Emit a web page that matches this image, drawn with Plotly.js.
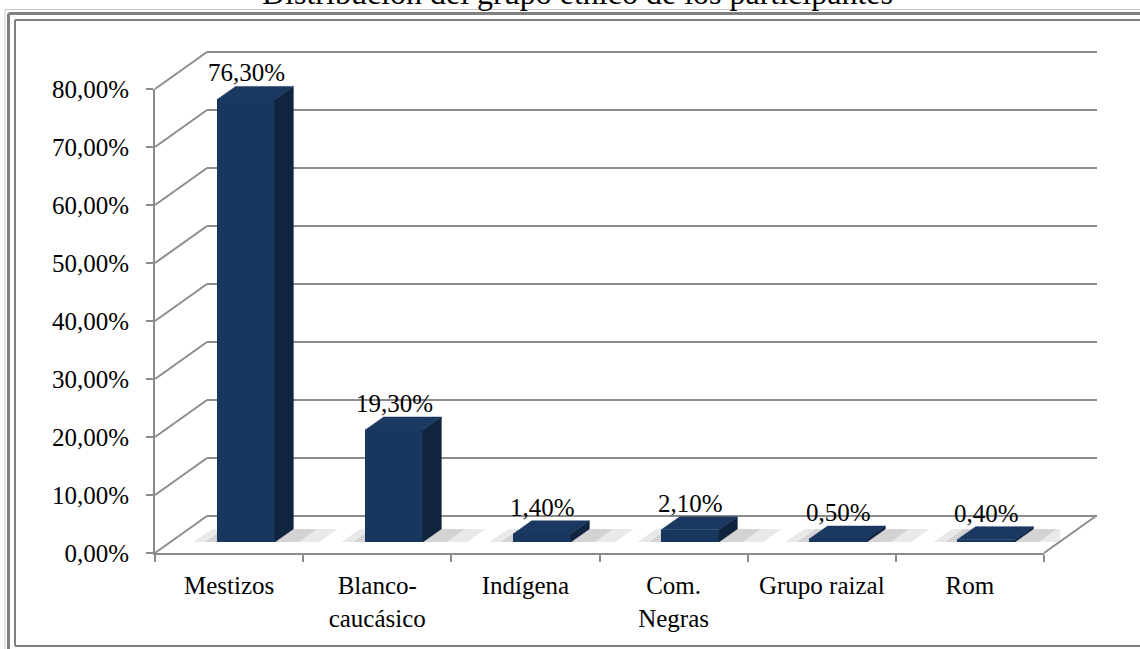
<!DOCTYPE html>
<html>
<head>
<meta charset="utf-8">
<script src="https://cdn.plot.ly/plotly-3.0.1.min.js"></script>
<style>html,body{margin:0;padding:0;background:#fff;}#chart{width:1140px;height:649px;}</style>
</head>
<body>
<div id="chart"></div>
<script>
// ---- data ----
const categories = ["Mestizos", "Blanco-<br>caucásico", "Indígena", "Com.<br>Negras", "Grupo raizal", "Rom"];
const values = [76.3, 19.3, 1.4, 2.1, 0.5, 0.4];
const tickValues = [0, 10, 20, 30, 40, 50, 60, 70, 80];
const tickLabels = ["0,00%", "10,00%", "20,00%", "30,00%", "40,00%", "50,00%", "60,00%", "70,00%", "80,00%"];
const chartTitle = "Distribución del grupo étnico de los participantes";

// ---- layout geometry (pixels) ----
const W = 1140, H = 649;
const px = x => x / W, py = y => 1 - y / H;
const FX0 = 155, FX1 = 1044, FY0 = 553, FY80 = 89;   // front plane
const DDX = 52, DDY = 37;                             // depth offset
const BAR_Y0 = 542, BAR_Y80 = 78;                     // bar base plane
const BX0 = 172, BX1 = 1060;                          // bar category span
const BAR_W = 0.39;                                   // category units
const SIDE_DX = 0.125, SIDE_DY = 2.25;                // bar depth (cat units, %)
const FONT = "Liberation Serif, Times New Roman, serif";
const GRID = "#8c8c8c";

const yf = t => FY0 - t * (FY0 - FY80) / 80;
const yb = t => yf(t) - DDY;

const idx = values.map((v, i) => i);

// side and top faces of the pseudo-3D bars, derived from the values
const sideX = [], sideY = [], topX = [], topY = [];
values.forEach((v, i) => {
  const r = i + BAR_W / 2, l = i - BAR_W / 2;
  sideX.push(r, r + SIDE_DX, r + SIDE_DX, r, r, null);
  sideY.push(0, SIDE_DY, v + SIDE_DY, v, 0, null);
  topX.push(l, r, r + SIDE_DX, l + SIDE_DX, l, null);
  topY.push(v, v, v + SIDE_DY, v + SIDE_DY, v, null);
});

const traces = [
  { type: "scatter", x: categories, y: values.map(() => 0), xaxis: "x", yaxis: "y",
    mode: "markers", marker: { opacity: 0 }, hoverinfo: "skip", showlegend: false },
  { type: "bar", x: idx, y: values, xaxis: "x2", yaxis: "y2", width: BAR_W,
    marker: { color: "#17375e", line: { width: 0 } }, hoverinfo: "skip", showlegend: false },
  { type: "scatter", x: sideX, y: sideY, xaxis: "x2", yaxis: "y2", mode: "lines", fill: "toself",
    fillcolor: "#10243f", line: { width: 0.5, color: "#10243f" }, hoverinfo: "skip", showlegend: false },
  { type: "scatter", x: topX, y: topY, xaxis: "x2", yaxis: "y2", mode: "lines", fill: "toself",
    fillcolor: "#1a3860", line: { width: 0.5, color: "#1a3860" }, hoverinfo: "skip", showlegend: false }
];

// decoration shapes: frame, floor, back-wall gridlines, left-wall diagonals
const shapes = [];
const line = (x0, y0, x1, y1, color, width) => shapes.push({
  type: "line", xref: "paper", yref: "paper", x0: px(x0), y0: py(y0), x1: px(x1), y1: py(y1),
  line: { color: color, width: width }, layer: "below" });
tickValues.forEach(t => {
  line(FX0 + DDX, yb(t), FX1 + DDX + 1, yb(t), GRID, 2);
  line(FX0, yf(t), FX0 + DDX, yb(t), GRID, 2);
});
line(FX1, FY0, FX1 + DDX, yb(0), GRID, 2);
// soft floor shadows around each bar base (below traces)
values.forEach((v, i) => {
  const r = i + BAR_W / 2, l = i - BAR_W / 2;
  [[0.16, 0.30, "rgba(120,120,120,0.16)"], [0.08, 0.16, "rgba(110,110,110,0.18)"]].forEach(s => {
    shapes.push({ type: "path", xref: "x2", yref: "y2", layer: "below", line: { width: 0 },
      fillcolor: s[2],
      path: `M${l - s[0]},0 L${r + s[1]},0 L${r + s[1] + SIDE_DX},${SIDE_DY} L${l - s[0] + SIDE_DX},${SIDE_DY} Z` });
  });
});
// frame (double border)
line(5, 9.5, 1140, 9.5, "#c8c8c8", 1);
line(5, 9.5, 5, 649, "#c8c8c8", 1);
line(8.5, 13.5, 1140, 13.5, "#808080", 3);
line(8.5, 13.5, 8.5, 649, "#808080", 3);
line(15, 20, 1140, 20, "#808080", 2);
line(15, 20, 15, 646, "#808080", 2);
line(15, 646, 1140, 646, "#808080", 2);

const annotations = values.map((v, i) => ({
  xref: "x2", yref: "y2", x: i, y: v + SIDE_DY, yanchor: "bottom", xanchor: "center", yshift: -2,
  text: v.toFixed(2).replace(".", ",") + "%", showarrow: false,
  font: { family: FONT, size: 25, color: "#000" }
}));
annotations.push({ xref: "paper", yref: "paper", x: px(577), y: py(-7), xanchor: "center", yanchor: "middle",
  text: chartTitle, showarrow: false, font: { family: FONT, size: 32, color: "#000" } });

const layout = {
  width: W, height: H,
  margin: { l: 0, r: 0, t: 0, b: 0, pad: 0 },
  paper_bgcolor: "#ffffff", plot_bgcolor: "rgba(0,0,0,0)",
  showlegend: false,
  font: { family: FONT, size: 25, color: "#000" },
  xaxis: { domain: [px(FX0), px(FX1)], anchor: "y", type: "category", categoryorder: "array",
    categoryarray: categories, range: [-0.5, categories.length - 0.5], tickson: "boundaries",
    ticks: "outside", ticklen: 7, tickwidth: 2, tickcolor: GRID, showline: true, linecolor: GRID, linewidth: 2,
    showgrid: false, zeroline: false, tickfont: { family: FONT, size: 25, color: "#000" },
    ticklabelstandoff: 9, fixedrange: true },
  yaxis: { domain: [py(FY0), py(FY80)], anchor: "x", range: [0, 80], tickmode: "array",
    tickvals: tickValues, ticktext: tickLabels, ticks: "outside", ticklen: 7, tickwidth: 2, tickcolor: GRID,
    showline: true, linecolor: GRID, linewidth: 2, showgrid: false, zeroline: false,
    tickfont: { family: FONT, size: 25, color: "#000" }, ticklabelstandoff: 12, fixedrange: true },
  xaxis2: { domain: [px(BX0), px(BX1)], anchor: "y2", range: [-0.5, categories.length - 0.5],
    visible: false, fixedrange: true },
  yaxis2: { domain: [py(BAR_Y0), py(BAR_Y80)], anchor: "x2", range: [0, 80], visible: false, fixedrange: true },
  shapes: shapes,
  annotations: annotations,
  bargap: 0
};

Plotly.newPlot("chart", traces, layout, { displayModeBar: false, staticPlot: true });
</script>
</body>
</html>
